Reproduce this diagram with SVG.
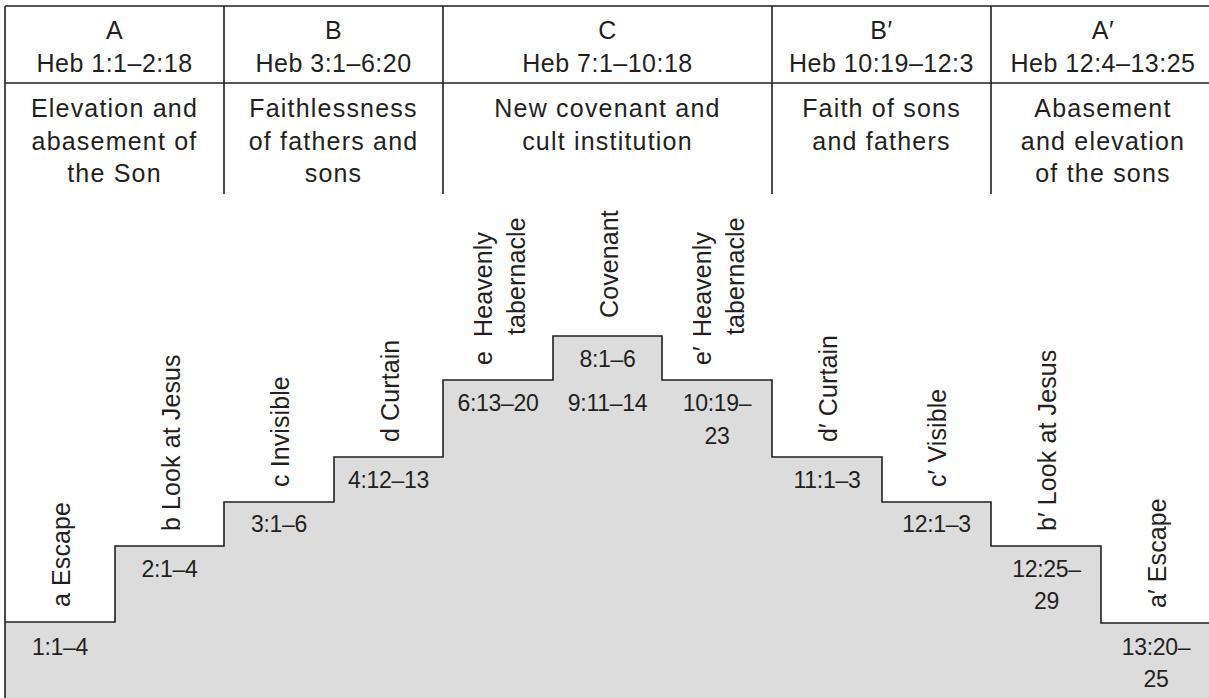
<svg xmlns="http://www.w3.org/2000/svg" width="1209" height="698" viewBox="0 0 1209 698">
<style>
text{font-family:"Liberation Sans",Arial,sans-serif;fill:#231f20}
.hd{font-size:25px;text-anchor:middle;letter-spacing:0.5px}
.ds{font-size:25px;text-anchor:middle;letter-spacing:1.2px}
.vl{font-size:25px;letter-spacing:0.1px}
.rg{font-size:23px;text-anchor:middle;letter-spacing:-0.3px}
.ln{fill:none;stroke:#231f20;stroke-width:1.6}
</style>
<rect x="0" y="0" width="1209" height="698" fill="#ffffff"/>
<g id="staircase">
<path d="M5,622 H115 V546 H224 V502 H334 V457 H443 V380 H553 V336 H662 V380 H772 V457 H882 V502 H991 V546 H1101 V623 H1215 V700 H5 Z" fill="#dcdcdc"/>
<path class="ln" d="M5,622 H115 V546 H224 V502 H334 V457 H443 V380 H553 V336 H662 V380 H772 V457 H882 V502 H991 V546 H1101 V623 H1215"/>
</g>
<g id="connectors">
<path class="ln" d="M5,6 H1215 M5,83 H1215 M5,6 V700 M224,6 V194 M443,6 V194 M772,6 V194 M991,6 V194"/>
</g>
<g id="section-A">
<text class="hd" x="114.5" y="39">A</text>
<text class="hd" x="114.5" y="72">Heb 1:1–2:18</text>
<text class="ds" x="114.5" y="117">Elevation and</text>
<text class="ds" x="114.5" y="150">abasement of</text>
<text class="ds" x="114.5" y="182">the Son</text>
</g>
<g id="section-B">
<text class="hd" x="333.5" y="39">B</text>
<text class="hd" x="333.5" y="72">Heb 3:1–6:20</text>
<text class="ds" x="333.5" y="117">Faithlessness</text>
<text class="ds" x="333.5" y="150">of fathers and</text>
<text class="ds" x="333.5" y="182">sons</text>
</g>
<g id="section-C">
<text class="hd" x="607.5" y="39">C</text>
<text class="hd" x="607.5" y="72">Heb 7:1–10:18</text>
<text class="ds" x="607.5" y="117">New covenant and</text>
<text class="ds" x="607.5" y="150">cult institution</text>
</g>
<g id="section-B2">
<text class="hd" x="881.5" y="39">B′</text>
<text class="hd" x="881.5" y="72">Heb 10:19–12:3</text>
<text class="ds" x="881.5" y="117">Faith of sons</text>
<text class="ds" x="881.5" y="150">and fathers</text>
</g>
<g id="section-A2">
<text class="hd" x="1103" y="39">A′</text>
<text class="hd" x="1103" y="72">Heb 12:4–13:25</text>
<text class="ds" x="1103" y="117">Abasement</text>
<text class="ds" x="1103" y="150">and elevation</text>
<text class="ds" x="1103" y="182">of the sons</text>
</g>
<g id="step-a">
<text class="vl" transform="translate(70,607) rotate(-90)">a Escape</text>
<text class="rg" x="60" y="655">1:1–4</text>
</g>
<g id="step-b">
<text class="vl" transform="translate(180,531) rotate(-90)">b Look at Jesus</text>
<text class="rg" x="169.5" y="577">2:1–4</text>
</g>
<g id="step-c">
<text class="vl" transform="translate(289,487) rotate(-90)">c Invisible</text>
<text class="rg" x="279" y="532">3:1–6</text>
</g>
<g id="step-d">
<text class="vl" transform="translate(398.5,442) rotate(-90)">d Curtain</text>
<text class="rg" x="388.5" y="488">4:12–13</text>
</g>
<g id="step-e">
<text class="vl" transform="translate(492,365) rotate(-90)"><tspan x="0" y="0">e</tspan><tspan x="28" y="0">Heavenly</tspan><tspan x="30" y="33">tabernacle</tspan></text>
<text class="rg" x="498" y="411">6:13–20</text>
</g>
<g id="step-center">
<text class="vl" transform="translate(617.5,318) rotate(-90)">Covenant</text>
<text class="rg" x="607.5" y="367">8:1–6</text>
<text class="rg" x="607.5" y="411">9:11–14</text>
</g>
<g id="step-e2">
<text class="vl" transform="translate(711,365) rotate(-90)"><tspan x="0" y="0">e′</tspan><tspan x="28" y="0">Heavenly</tspan><tspan x="30" y="33">tabernacle</tspan></text>
<text class="rg" x="717" y="411">10:19–</text>
<text class="rg" x="717" y="444">23</text>
</g>
<g id="step-d2">
<text class="vl" transform="translate(837,442) rotate(-90)">d′ Curtain</text>
<text class="rg" x="827" y="488">11:1–3</text>
</g>
<g id="step-c2">
<text class="vl" transform="translate(946,487) rotate(-90)">c′ Visible</text>
<text class="rg" x="936.5" y="532">12:1–3</text>
</g>
<g id="step-b2">
<text class="vl" transform="translate(1056,531) rotate(-90)">b′ Look at Jesus</text>
<text class="rg" x="1046.5" y="577">12:25–</text>
<text class="rg" x="1046.5" y="609">29</text>
</g>
<g id="step-a2">
<text class="vl" transform="translate(1166,608) rotate(-90)">a′ Escape</text>
<text class="rg" x="1156" y="655">13:20–</text>
<text class="rg" x="1156" y="687">25</text>
</g>
</svg>
